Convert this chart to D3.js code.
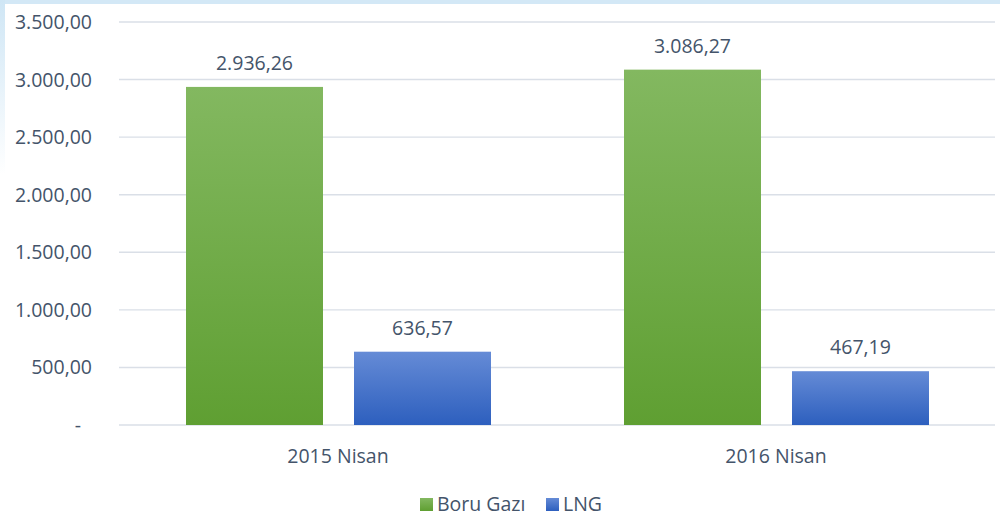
<!DOCTYPE html>
<html>
<head>
<meta charset="utf-8">
<script src="https://cdn.jsdelivr.net/npm/d3@7"></script>
<style>
  body { margin: 0; background: #fff; }
  svg text { font-family: "Open Sans", sans-serif; fill: #44546a; font-size: 19.5px; }
</style>
</head>
<body>
<div id="chart"></div>
<script>
// DATA
const categories = ['2015 Nisan', '2016 Nisan'];
const seriesNames = ['Boru Gazı', 'LNG'];
const boruGazi = [2936.26, 3086.27];
const lng = [636.57, 467.19];
const yTicks = [0, 500, 1000, 1500, 2000, 2500, 3000, 3500];

// DIMENSIONS
const width = 1000, height = 520;
const plotLeft = 119, plotRight = 995, plotTop = 22, plotBottom = 425;

const fmt = v => v === 0 ? '-' :
  v.toLocaleString('tr-TR', { minimumFractionDigits: 2, maximumFractionDigits: 2 });

const svg = d3.select('#chart').append('svg')
  .attr('width', width)
  .attr('height', height);

// BACKGROUND STRIPS
const defs = svg.append('defs');
const sky = defs.append('linearGradient').attr('id', 'sky').attr('x1', 0).attr('y1', 0).attr('x2', 0).attr('y2', 1);
sky.append('stop').attr('offset', '0%').attr('stop-color', '#cfe6f5');
sky.append('stop').attr('offset', '100%').attr('stop-color', '#ffffff');
svg.append('rect').attr('x', 0).attr('y', 0).attr('width', width).attr('height', 4).attr('fill', '#d3e8f6');
svg.append('rect').attr('x', 0).attr('y', 0).attr('width', 5).attr('height', 175).attr('fill', 'url(#sky)');

// GRADIENTS
const grads = [['g0', '#83b860', '#5f9f32'], ['g1', '#658bd6', '#2d5fbe']];
grads.forEach(([id, c1, c2]) => {
  const g = defs.append('linearGradient').attr('id', id).attr('x1', 0).attr('y1', 0).attr('x2', 0).attr('y2', 1);
  g.append('stop').attr('offset', '0%').attr('stop-color', c1);
  g.append('stop').attr('offset', '100%').attr('stop-color', c2);
});

// SCALES
const x0 = d3.scaleBand().domain(categories).range([plotLeft, plotRight]);
const x1 = d3.scaleBand().domain(seriesNames).range([67, 67 + 137 * 2 + 31]).paddingInner(31 / 168);
const y = d3.scaleLinear().domain([0, 3500]).range([plotBottom, plotTop]);

// GRID
svg.append('g')
  .selectAll('line')
  .data(yTicks)
  .join('line')
  .attr('x1', plotLeft).attr('x2', plotRight)
  .attr('y1', d => y(d)).attr('y2', d => y(d))
  .attr('stroke', '#dadfe7')
  .attr('stroke-width', 1.4);

// Y LABELS
svg.append('g')
  .selectAll('text')
  .data(yTicks)
  .join('text')
  .attr('x', d => d === 0 ? 81 : 92)
  .attr('y', d => y(d) + 7)
  .attr('text-anchor', 'end')
  .text(fmt);

// BARS
const rows = categories.map((c, i) => ({ cat: c, values: [boruGazi[i], lng[i]] }));
const groups = svg.append('g')
  .selectAll('g')
  .data(rows)
  .join('g')
  .attr('transform', d => `translate(${x0(d.cat)},0)`);

groups.selectAll('rect')
  .data(d => d.values.map((v, j) => ({ s: seriesNames[j], v, j })))
  .join('rect')
  .attr('x', d => x1(d.s))
  .attr('width', x1.bandwidth())
  .attr('y', d => y(d.v))
  .attr('height', d => plotBottom - y(d.v))
  .attr('fill', d => `url(#g${d.j})`);

groups.selectAll('text')
  .data(d => d.values.map((v, j) => ({ s: seriesNames[j], v })))
  .join('text')
  .attr('x', d => x1(d.s) + x1.bandwidth() / 2)
  .attr('y', d => y(d.v) - 17)
  .attr('text-anchor', 'middle')
  .text(d => fmt(d.v));

// X LABELS
svg.append('g')
  .selectAll('text')
  .data(categories)
  .join('text')
  .attr('x', d => x0(d) + x0.bandwidth() / 2)
  .attr('y', 463)
  .attr('text-anchor', 'middle')
  .text(d => d);

// LEGEND
const legendX = [420, 546];
const legend = svg.append('g')
  .selectAll('g')
  .data(seriesNames)
  .join('g')
  .attr('transform', (d, i) => `translate(${legendX[i]},498)`);
legend.append('rect')
  .attr('width', 13).attr('height', 13)
  .attr('fill', (d, i) => `url(#g${i})`);
legend.append('text')
  .attr('x', 17).attr('y', 13)
  .text(d => d);
</script>
</body>
</html>
